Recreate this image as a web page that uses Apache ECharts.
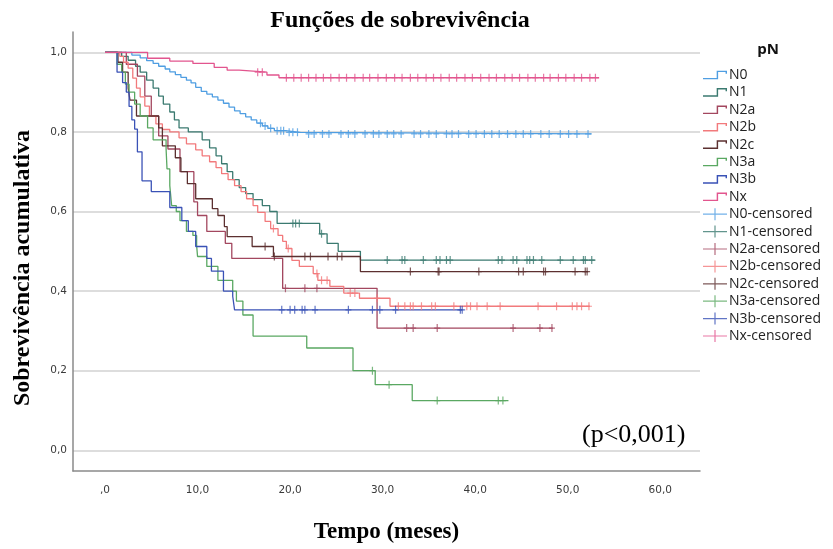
<!DOCTYPE html>
<html>
<head>
<meta charset="utf-8">
<script src="https://cdn.jsdelivr.net/npm/echarts@6/dist/echarts.min.js"></script>
<style>
  html, body { margin: 0; padding: 0; background: #fff; }
  #main { width: 833px; height: 549px; }
</style>
</head>
<body>
<div id="main"></div>
<script>
// Kaplan-Meier estimates (time in months, cumulative survival)
const groupNames = ['N0', 'N1', 'N2a', 'N2b', 'N2c', 'N3a', 'N3b', 'Nx'];
const groupColors = ['#4f9ee2', '#3b7a70', '#a3475f', '#f27a7c', '#5c3030', '#5aa862', '#3a52b6', '#e2558e'];

const n0Time = [0, 2.9, 3.8, 4.5, 5.2, 5.8, 6.5, 7.0, 7.6, 8.2, 8.8, 9.3, 9.8, 10.4, 11.0, 11.6, 12.2, 12.8, 13.4, 14.0, 14.6, 15.2, 15.8, 16.4, 17.0, 17.6, 18.3, 19.5, 21.0];
const n0Surv = [1.0, 0.993, 0.986, 0.979, 0.972, 0.965, 0.958, 0.951, 0.944, 0.937, 0.930, 0.923, 0.912, 0.902, 0.895, 0.888, 0.880, 0.872, 0.862, 0.853, 0.846, 0.838, 0.830, 0.822, 0.815, 0.809, 0.803, 0.799, 0.795];
const n0Cens = [16.8, 17.3, 17.9, 18.6, 19.0, 19.3, 19.9, 20.3, 20.8, 22.0, 22.6, 23.5, 24.2, 25.5, 26.3, 27.0, 28.1, 29.0, 29.6, 30.5, 31.2, 32.0, 33.4, 34.1, 35.0, 35.8, 36.9, 37.5, 38.2, 39.3, 40.1, 41.0, 41.8, 42.6, 43.5, 44.4, 45.2, 46.0, 47.1, 48.0, 49.2, 50.1, 51.0, 52.2];
const n0End = 52.6;

const n1Time = [0, 1.8, 2.5, 3.3, 3.8, 4.5, 5.2, 5.8, 6.3, 7.0, 7.5, 8.0, 9.0, 10.5, 11.3, 12.0, 12.6, 13.2, 13.8, 14.5, 15.2, 16.0, 17.0, 17.8, 18.6, 23.2, 24.0, 25.2, 27.6];
const n1Surv = [1.0, 0.99, 0.98, 0.965, 0.95, 0.93, 0.91, 0.89, 0.87, 0.85, 0.83, 0.81, 0.80, 0.78, 0.76, 0.74, 0.72, 0.70, 0.68, 0.66, 0.645, 0.63, 0.615, 0.60, 0.57, 0.544, 0.52, 0.50, 0.478];
const n1Cens = [20.3, 20.6, 21.0, 23.4, 30.5, 32.1, 32.4, 34.4, 35.8, 36.2, 36.9, 37.3, 42.5, 42.9, 44.1, 44.5, 45.6, 45.9, 46.3, 47.2, 49.2, 50.6, 51.7, 51.9, 52.6];
const n1End = 53.0;

const n2aTime = [0, 2.3, 3.5, 4.3, 5.0, 5.8, 6.8, 8.1, 9.6, 10.0, 11.0, 13.0, 13.7, 19.2, 29.4];
const n2aSurv = [1.0, 0.97, 0.94, 0.89, 0.84, 0.79, 0.757, 0.70, 0.624, 0.59, 0.55, 0.52, 0.482, 0.407, 0.307];
const n2aCens = [19.5, 21.6, 22.9, 32.6, 33.3, 35.9, 44.1, 47.0, 48.3];
const n2aEnd = 48.4;

const n2bTime = [0, 1.6, 2.0, 2.5, 3.0, 3.4, 3.8, 4.3, 4.8, 5.5, 6.2, 7.0, 8.0, 8.8, 9.8, 10.5, 11.3, 12.0, 12.6, 13.3, 14.0, 14.7, 15.3, 16.0, 16.5, 17.3, 17.9, 18.7, 19.2, 19.6, 20.2, 21.0, 22.5, 23.0, 24.3, 25.8, 27.5, 30.8];
const n2bSurv = [1.0, 0.99, 0.975, 0.96, 0.935, 0.91, 0.888, 0.865, 0.84, 0.82, 0.806, 0.80, 0.785, 0.77, 0.755, 0.74, 0.725, 0.71, 0.695, 0.68, 0.665, 0.65, 0.632, 0.615, 0.598, 0.575, 0.557, 0.54, 0.525, 0.507, 0.477, 0.462, 0.444, 0.427, 0.412, 0.395, 0.382, 0.362];
const n2bCens = [18.2, 19.8, 22.9, 23.4, 24.0, 26.5, 27.0, 29.4, 31.7, 32.4, 33.0, 33.3, 34.2, 35.3, 35.7, 37.7, 39.1, 39.5, 40.2, 41.3, 42.7, 46.8, 48.8, 50.5, 51.0, 51.5, 52.3];
const n2bEnd = 52.4;

const n2cTime = [0, 1.4, 1.9, 2.5, 2.7, 3.4, 5.8, 6.2, 7.6, 8.2, 8.9, 9.8, 11.6, 12.2, 12.9, 13.2, 15.9, 18.2, 27.6];
const n2cSurv = [1.0, 0.975, 0.95, 0.91, 0.88, 0.84, 0.81, 0.765, 0.735, 0.70, 0.67, 0.632, 0.607, 0.59, 0.562, 0.537, 0.512, 0.487, 0.449];
const n2cCens = [17.3, 18.3, 21.6, 22.2, 24.1, 25.1, 25.6, 33.0, 36.0, 36.1, 40.4, 44.7, 45.2, 47.4, 47.6, 50.8, 51.9, 52.1];
const n2cEnd = 52.2;

const n3aTime = [0, 1.3, 1.8, 2.2, 2.6, 3.2, 3.8, 4.6, 5.2, 6.6, 6.7, 7.0, 7.2, 7.7, 8.1, 8.8, 9.5, 9.9, 10.0, 11.0, 12.2, 13.8, 14.2, 14.9, 16.0, 21.8, 26.8, 29.2, 33.2];
const n3aSurv = [1.0, 0.97, 0.95, 0.92, 0.90, 0.87, 0.84, 0.81, 0.78, 0.757, 0.707, 0.665, 0.615, 0.60, 0.577, 0.55, 0.54, 0.515, 0.487, 0.462, 0.427, 0.40, 0.375, 0.34, 0.287, 0.257, 0.20, 0.165, 0.125];
const n3aCens = [28.9, 30.7, 35.9, 42.5, 43.0];
const n3aEnd = 43.6;

const n3bTime = [0, 1.3, 1.9, 2.3, 2.6, 2.9, 3.2, 3.5, 4.0, 5.0, 7.0, 8.3, 9.0, 9.8, 11.0, 11.5, 12.8, 13.8, 14.0];
const n3bSurv = [1.0, 0.95, 0.924, 0.90, 0.864, 0.83, 0.807, 0.75, 0.677, 0.65, 0.61, 0.577, 0.55, 0.512, 0.482, 0.45, 0.40, 0.387, 0.353];
const n3bCens = [19.1, 20.0, 20.5, 21.3, 21.6, 22.7, 26.3, 28.9, 29.7, 31.4, 38.4, 38.6];
const n3bEnd = 38.6;

const nxTime = [0, 4.6, 7.0, 9.5, 11.8, 13.2, 14.5, 17.5, 18.8];
const nxSurv = [1.0, 0.985, 0.978, 0.972, 0.962, 0.955, 0.95, 0.943, 0.936];
const nxCens = [16.5, 17.0, 19.6, 20.4, 21.2, 22.0, 22.8, 23.6, 24.4, 25.3, 26.1, 27.0, 27.9, 28.6, 29.5, 30.4, 31.3, 32.1, 33.0, 33.8, 34.7, 35.5, 36.3, 37.2, 38.0, 38.9, 39.7, 40.6, 41.5, 42.3, 43.2, 44.0, 44.8, 45.7, 46.5, 47.4, 48.1, 49.0, 49.8, 50.7, 51.5, 52.4, 53.0];
const nxEnd = 53.4;

const xTicks = [0, 10, 20, 30, 40, 50, 60];
const yTicks = [0, 0.2, 0.4, 0.6, 0.8, 1.0];

const groups = [
  [n0Time, n0Surv, n0Cens, n0End],
  [n1Time, n1Surv, n1Cens, n1End],
  [n2aTime, n2aSurv, n2aCens, n2aEnd],
  [n2bTime, n2bSurv, n2bCens, n2bEnd],
  [n2cTime, n2cSurv, n2cCens, n2cEnd],
  [n3aTime, n3aSurv, n3aCens, n3aEnd],
  [n3bTime, n3bSurv, n3bCens, n3bEnd],
  [nxTime, nxSurv, nxCens, nxEnd]
];

function survAt(time, surv, t) {
  let s = surv[0];
  for (let i = 0; i < time.length; i++) {
    if (time[i] <= t) s = surv[i];
  }
  return s;
}

const stepIcon = 'path://M0,8.4H11.4V2.4H20V5H18.8V3.6H12.6V9.6H0Z';
const plusIcon = 'path://M0,5.4H11.4V0H12.6V5.4H24V6.6H12.6V12H11.4V6.6H0Z';
const censMark = 'path://M2.4,0H3.6V3.4H6V4.6H3.6V8H2.4V4.6H0V3.4H2.4Z';

const series = [];
const legendData = [];
groups.forEach(function (g, i) {
  const data = g[0].map(function (t, k) { return [t, g[1][k]]; });
  data.push([g[3], g[1][g[1].length - 1]]);
  series.push({
    name: groupNames[i],
    type: 'line',
    step: 'end',
    showSymbol: false,
    data: data,
    lineStyle: { color: groupColors[i], width: 1.3 },
    itemStyle: { color: groupColors[i] },
    z: 3
  });
  legendData.push({ name: groupNames[i], icon: stepIcon });
});
groups.forEach(function (g, i) {
  series.push({
    name: groupNames[i] + '-censored',
    type: 'scatter',
    symbol: censMark,
    symbolSize: [6, 8],
    data: g[2].map(function (t) { return [t, survAt(g[0], g[1], t)]; }),
    itemStyle: { color: groupColors[i] },
    z: 4
  });
  legendData.push({ name: groupNames[i] + '-censored', icon: plusIcon });
});

const chart = echarts.init(document.getElementById('main'));
chart.setOption({
  animation: false,
  backgroundColor: '#fff',
  title: [
    {
      text: 'Funções de sobrevivência',
      left: 395, top: 4, textAlign: 'center',
      textStyle: { fontFamily: 'Liberation Serif', fontWeight: 'bold', fontSize: 24, color: '#000' }
    },
    {
      text: 'pN',
      left: 763, top: 37, textAlign: 'center',
      textStyle: { fontFamily: 'Open Sans', fontWeight: 'bold', fontSize: 15, color: '#111' }
    },
    {
      text: '(p<0,001)',
      left: 577, top: 417,
      textStyle: { fontFamily: 'Liberation Serif', fontWeight: 'normal', fontSize: 26, color: '#000' }
    }
  ],
  legend: {
    orient: 'vertical',
    left: 698, top: 63,
    itemWidth: 24, itemHeight: 12, itemGap: 3.4,
    data: legendData,
    textStyle: { fontFamily: 'Open Sans', fontSize: 14, color: '#222', padding: [0, 0, 0, -3] }
  },
  grid: { left: 73, right: 133, top: 32, bottom: 75 },
  xAxis: {
    type: 'value',
    min: -3.46, max: 64.3,
    name: 'Tempo (meses)',
    nameLocation: 'middle',
    nameGap: 50,
    nameTextStyle: { fontFamily: 'Liberation Serif', fontWeight: 'bold', fontSize: 23, color: '#000' },
    axisLine: { show: true, onZero: false, lineStyle: { color: '#8a8a8a', width: 1.5 } },
    axisTick: { show: false, customValues: xTicks },
    splitLine: { show: false },
    axisLabel: {
      customValues: xTicks,
      margin: 14,
      fontFamily: 'DejaVu Sans', fontSize: 10.5, color: '#3a3a3a',
      formatter: function (v) { return v === 0 ? ',0' : v.toFixed(1).replace('.', ','); }
    }
  },
  yAxis: {
    type: 'value',
    min: -0.052, max: 1.051,
    axisLine: { show: true, onZero: false, lineStyle: { color: '#8a8a8a', width: 1.5 } },
    axisTick: { show: false, customValues: yTicks },
    splitLine: { show: true, lineStyle: { color: '#d2d2d2', width: 1.5 } },
    axisLabel: {
      customValues: yTicks,
      margin: 6,
      fontFamily: 'DejaVu Sans', fontSize: 10.5, color: '#3a3a3a',
      formatter: function (v) { return v.toFixed(1).replace('.', ','); }
    }
  },
  graphic: [
    {
      type: 'text',
      x: 23, y: 268,
      rotation: Math.PI / 2,
      style: {
        text: 'Sobrevivência acumulativa',
        font: 'bold 24px "Liberation Serif"',
        fill: '#000',
        textAlign: 'center',
        textVerticalAlign: 'middle'
      }
    }
  ],
  series: series
});
</script>
</body>
</html>
